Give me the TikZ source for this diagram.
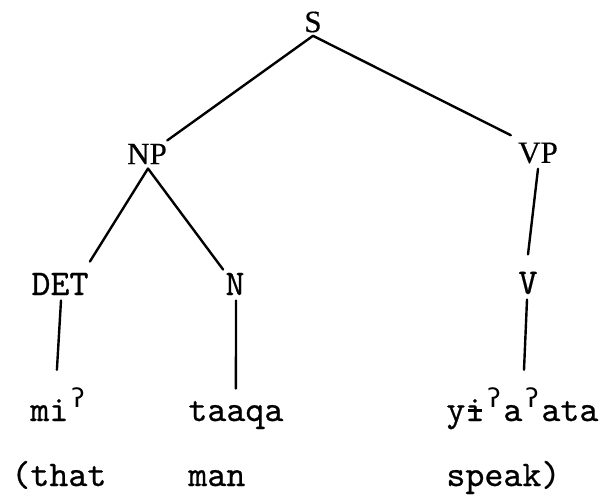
\documentclass[tikz,border=0pt]{standalone}
\usepackage{fontspec}
\usepackage{graphicx}
\setmainfont{Liberation Serif}[FakeBold=0.4]
\newfontfamily\twfont{lmmono10-regular.otf}[FakeBold=0.6]
\newfontfamily\ipamono{DejaVu Sans Mono}
\newcommand\gstop{\makebox[0.525em][c]{\raisebox{0.36em}{\scalebox{0.72}{\ipamono ʔ}}}}
\newcommand\barri{\makebox[0.525em][c]{i\llap{\rule[0.26em]{0.36em}{0.07em}\kern0.08em}}}
\tikzset{
  cat/.style={inner sep=0pt, font=\fontsize{15.5}{18}\selectfont},
  tw/.style={inner sep=0pt, font=\fontsize{18.1}{21}\selectfont\twfont},
  word/.style={tw, anchor=base west},
  branch/.style={line width=1.2pt, line cap=round}
}
\begin{document}
\begin{tikzpicture}[x=0.5pt,y=-0.5pt]
\useasboundingbox (0,0) rectangle (603,502);
% categories
\node[cat] (S)  at (313,22)  {S};
\node[cat] (NP) at (147,154) {NP};
\node[cat] (VP) at (538,153) {VP};
\node[tw]  (DET) at (60,284) {DET};
\node[tw]  (N)   at (235,284) {N};
\node[tw]  (V)   at (528,283) {V};
% words
\node[word] (w1) at (30,421)  {mi\gstop};
\node[word] (w2) at (188,421) {taaqa};
\node[word] (w3) at (446,421) {y\barri\gstop a\gstop ata};
% glosses
\node[word] (g1) at (11,486) {(that};
\node[word] (g2) at (188,486)  {man};
\node[word] (g3) at (446,486)  {speak)};
% branches
\draw[branch] ([shift={(0,3)}]S.south) -- ([shift={(0,-3)}]NP.north east);
\draw[branch] ([shift={(0,3)}]S.south) -- ([shift={(-7,-7)}]VP.north west);
\draw[branch] ([shift={(1,4)}]NP.south) -- ([shift={(1,-11)}]DET.north east);
\draw[branch] ([shift={(1,4)}]NP.south) -- ([shift={(-2,-3)}]N.north west);
\draw[branch] ([shift={(0,5)}]VP.south) -- ([shift={(0,-17)}]V.north);
\draw[branch] ([shift={(1,5)}]DET.south) -- ([shift={(-2,-18)}]w1.north);
\draw[branch] ([shift={(1,5)}]N.south) -- ([shift={(0,-12)}]w2.north);
\draw[branch] ([shift={(-1,5)}]V.south) -- ([shift={(-4,-18)}]V.south |- w3.north);
\end{tikzpicture}
\end{document}
